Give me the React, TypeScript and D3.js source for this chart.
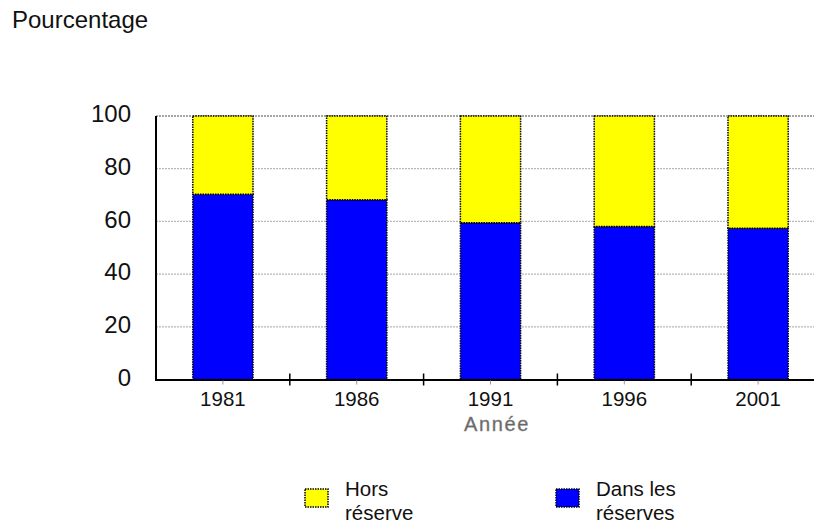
import React from "react";
import * as d3 from "d3";

const years = ["1981", "1986", "1991", "1996", "2001"];
const dansReserves = [70.3, 68.2, 59.5, 58.1, 57.4];
const yTicks = [0, 20, 40, 60, 80, 100];
const legendItems = [
  { lines: ["Hors", "réserve"], color: "#ffff00" },
  { lines: ["Dans les", "réserves"], color: "#0000ff" },
];

export default function App() {
  const W = 814, H = 525;
  const left = 156, right = 825, top = 116, bottom = 379.5;
  const x = d3.scaleBand<string>().domain(years).range([left, right]).paddingInner(0.55).paddingOuter(0.275);
  const y = d3.scaleLinear().domain([0, 100]).range([bottom, top]);
  const step = x.step();
  const font = "Liberation Sans, Arial, sans-serif";
  const rows = years.map((yr, i) => ({ yr, blue: dansReserves[i], yellow: 100 - dansReserves[i] }));
  const stack = d3.stack<any>().keys(["blue", "yellow"])(rows);
  const colors: Record<string, string> = { blue: "#0000ff", yellow: "#ffff00" };
  const legendX = [305, 556];

  return (
    <svg width={W} height={H} style={{ position: "absolute", left: 0, top: 0, background: "#fff" }} fontFamily={font}>
      <text x={12} y={28} fontSize={24} fill="#111">Pourcentage</text>
      {yTicks.map((t) => (
        <g key={t}>
          {t > 0 && (
            <line x1={left} x2={W} y1={y(t)} y2={y(t)} stroke={t === 100 ? "#888" : "#b8b8b8"} strokeWidth={1.3} strokeDasharray="2 1" />
          )}
          <text x={131} y={y(t)} fontSize={24} textAnchor="end" dominantBaseline="middle" fill="#111">{t}</text>
        </g>
      ))}
      {stack.map((s) => (
        <g key={s.key}>
          {s.map((d, i) => (
            <rect
              key={i}
              x={x(years[i])!}
              y={y(d[1])}
              width={x.bandwidth()}
              height={y(d[0]) - y(d[1])}
              fill={colors[s.key]}
              stroke="#000"
              strokeWidth={1.5}
              strokeDasharray="1.5 1"
            />
          ))}
        </g>
      ))}
      <line x1={left} x2={left} y1={top} y2={bottom + 1} stroke="#000" strokeWidth={2} />
      <line x1={left - 1} x2={W} y1={bottom + 0.5} y2={bottom + 0.5} stroke="#000" strokeWidth={2} />
      {years.slice(1).map((yr) => (
        <line key={"b" + yr} x1={x(yr)! - step * 0.275} x2={x(yr)! - step * 0.275} y1={bottom - 6} y2={bottom + 6} stroke="#000" strokeWidth={1.5} />
      ))}
      {years.map((yr) => {
        const cx = x(yr)! + x.bandwidth() / 2;
        return (
          <g key={"t" + yr}>
            <line x1={cx} x2={cx} y1={bottom + 1} y2={bottom + 5} stroke="#999" strokeWidth={1} />
            <text x={cx} y={406} fontSize={20.5} textAnchor="middle" fill="#111">{yr}</text>
          </g>
        );
      })}
      <text x={497} y={431} fontSize={20} textAnchor="middle" fill="#666" stroke="#888" strokeWidth={0.4} letterSpacing={1.6}>Année</text>
      {legendItems.map((it, i) => (
        <g key={i}>
          <rect x={legendX[i]} y={489} width={23} height={18} fill={it.color} stroke="#000" strokeWidth={1.5} strokeDasharray="1.5 1" />
          {it.lines.map((ln, j) => (
            <text key={j} x={legendX[i] + 40} y={496 + j * 24} fontSize={20.5} fill="#111">{ln}</text>
          ))}
        </g>
      ))}
    </svg>
  );
}
